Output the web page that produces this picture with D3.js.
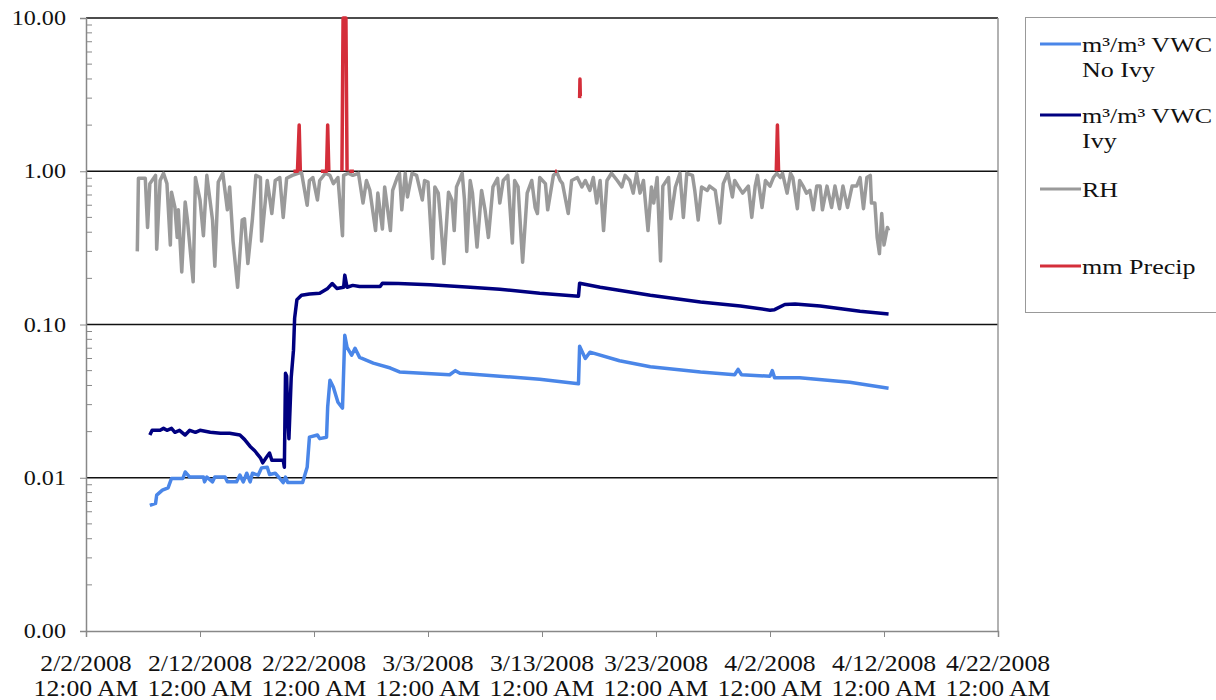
<!DOCTYPE html>
<html>
<head>
<meta charset="utf-8">
<script src="https://cdn.jsdelivr.net/npm/d3@7"></script>
<style>
 body { margin: 0; background: #fff; }
 text { font-family: "Liberation Serif", "DejaVu Serif", serif; }
</style>
</head>
<body>
<div id="chart"></div>
<script>
// values, day = days after 2/2/2008 12:00 AM
var startDate = new Date(2008, 1, 2);
var xTickDays = [0, 10, 20, 30, 40, 50, 60, 70, 80];
var yTickValues = [0.001, 0.01, 0.1, 1, 10];

var rh = [[4.5,0.30],[4.6,0.90],[5.2,0.90],[5.4,0.43],[5.6,0.83],[6.1,0.94],[6.2,0.31],[6.5,0.87],[6.8,0.97],[7.1,0.83],
 [7.4,0.33],[7.5,0.73],[7.8,0.58],[8.0,0.37],[8.1,0.56],[8.4,0.22],[8.7,0.63],[8.9,0.48],[9.4,0.19],[9.6,0.91],
 [10.0,0.65],[10.3,0.38],[10.6,0.94],[11.1,0.48],[11.3,0.24],[11.6,0.85],[12.0,0.97],[12.4,0.56],[12.6,0.79],[12.9,0.35],
 [13.3,0.175],[13.7,0.48],[13.9,0.49],[14.2,0.25],[14.6,0.49],[14.9,0.94],[15.3,0.91],[15.4,0.35],[15.9,0.87],[16.3,0.53],
 [16.6,0.87],[17.0,0.91],[17.3,0.50],[17.6,0.90],[18.1,0.94],[18.6,0.97],[18.9,0.985],[19.4,0.60],[19.6,0.87],[19.9,0.91],
 [20.3,0.65],[20.5,0.87],[21.0,0.97],[21.4,0.94],[21.7,0.83],[22.1,0.91],[22.5,0.38],[22.6,0.94],[23.0,0.97],[23.4,0.94],
 [23.9,0.97],[24.3,0.62],[24.6,0.87],[24.9,0.75],[25.4,0.41],[25.6,0.72],[26.0,0.42],[26.2,0.79],[26.7,0.41],[26.9,0.75],
 [27.3,0.91],[27.5,0.97],[27.7,0.56],[28.0,0.97],[28.2,0.68],[28.6,0.97],[29.0,0.94],[29.5,0.65],[29.7,0.87],[30.0,0.85],
 [30.4,0.27],[30.6,0.79],[30.9,0.72],[31.1,0.48],[31.4,0.25],[31.8,0.73],[32.1,0.65],[32.3,0.41],[32.5,0.79],[33.0,0.97],
 [33.2,0.65],[33.4,0.30],[33.7,0.87],[33.9,0.72],[34.3,0.32],[34.7,0.75],[35.0,0.56],[35.3,0.37],[35.7,0.79],[36.1,0.90],
 [36.3,0.62],[36.6,0.87],[37.0,0.94],[37.4,0.34],[37.6,0.87],[37.9,0.79],[38.3,0.255],[38.7,0.72],[39.1,0.87],[39.4,0.58],
 [39.6,0.53],[39.8,0.91],[40.3,0.83],[40.5,0.56],[41.0,0.94],[41.3,0.985],[41.6,0.87],[41.8,0.83],[42.3,0.53],[42.6,0.87],
 [43.1,0.91],[43.5,0.79],[43.8,0.87],[44.2,0.75],[44.5,0.91],[44.8,0.62],[45.1,0.87],[45.4,0.41],[45.7,0.87],[46.1,0.97],
 [46.6,0.87],[47.0,0.79],[47.3,0.94],[47.7,0.87],[48.0,0.72],[48.3,0.97],[48.6,0.72],[48.9,0.87],[49.3,0.41],[49.6,0.79],
 [49.8,0.62],[50.1,0.91],[50.4,0.26],[50.6,0.80],[51.1,0.91],[51.3,0.49],[51.7,0.79],[52.1,0.97],[52.4,0.50],[52.7,0.97],
 [53.2,0.94],[53.4,0.75],[53.7,0.48],[54.0,0.79],[54.5,0.75],[54.7,0.80],[55.2,0.75],[55.6,0.46],[55.9,0.83],[56.3,0.97],
 [56.7,0.68],[56.9,0.87],[57.2,0.80],[57.6,0.72],[58.1,0.80],[58.4,0.50],[58.7,0.80],[58.9,0.94],[59.3,0.58],[59.6,0.87],
 [60.0,0.80],[60.3,0.91],[60.6,0.97],[60.9,0.91],[61.1,0.97],[61.5,0.72],[61.8,0.97],[62.0,0.91],[62.4,0.57],[62.6,0.87],
 [62.9,0.80],[63.2,0.72],[63.5,0.75],[63.8,0.56],[64.1,0.80],[64.4,0.80],[64.6,0.56],[65.0,0.80],[65.4,0.58],[65.7,0.80],
 [66.1,0.57],[66.4,0.80],[66.8,0.58],[67.2,0.80],[67.6,0.80],[67.9,0.91],[68.2,0.57],[68.5,0.91],[68.8,0.94],[68.9,0.62],
 [69.2,0.62],[69.4,0.37],[69.6,0.29],[69.8,0.53],[70.0,0.33],[70.3,0.43],[70.4,0.41]];

var vwcIvy = [[5.6,0.019],[5.8,0.0204],[6.5,0.0204],[6.8,0.021],[7.1,0.0204],[7.5,0.021],[7.8,0.0198],[8.2,0.0204],[8.7,0.019],
 [9.1,0.0204],[9.6,0.0198],[10.0,0.0204],[10.9,0.0198],[11.8,0.0195],[12.6,0.0195],[13.5,0.019],[13.9,0.0178],[14.4,0.016],
 [14.8,0.015],[15.3,0.0135],[15.5,0.0125],[15.8,0.0135],[16.1,0.0145],[16.3,0.013],[17.3,0.013],[17.4,0.0117],[17.5,0.048],
 [17.6,0.046],[17.7,0.025],[17.8,0.018],[18.0,0.045],[18.2,0.068],[18.3,0.11],[18.5,0.145],[18.9,0.155],[19.6,0.158],
 [20.5,0.16],[21.2,0.172],[21.6,0.185],[22.0,0.172],[22.6,0.175],[22.7,0.21],[22.9,0.175],[23.4,0.18],[24.0,0.177],
 [24.7,0.177],[25.8,0.177],[26.0,0.186],[27.4,0.185],[30.2,0.182],[33.7,0.175],[36.3,0.17],[39.8,0.16],[43.2,0.153],
 [43.3,0.186],[45.1,0.175],[49.5,0.155],[53.9,0.14],[57.4,0.132],[60.0,0.124],[60.4,0.125],[61.3,0.135],[62.2,0.136],
 [64.4,0.132],[67.9,0.122],[70.4,0.117]];

var vwcNoIvy = [[5.6,0.0066],[6.1,0.0068],[6.2,0.0077],[6.7,0.0083],[7.2,0.0086],[7.5,0.0099],[8.5,0.0099],[8.7,0.0109],
 [9.1,0.0101],[10.3,0.0101],[10.4,0.0094],[10.6,0.0101],[11.1,0.0094],[11.3,0.0101],[12.2,0.0101],[12.4,0.0094],[13.2,0.0094],
 [13.5,0.0104],[13.8,0.0094],[14.1,0.0107],[14.4,0.0094],[14.6,0.0107],[15.1,0.0104],[15.4,0.0116],[15.9,0.0117],[16.1,0.0105],
 [16.6,0.0107],[17.0,0.0099],[17.3,0.0093],[17.5,0.0101],[17.7,0.0093],[19.0,0.0093],[19.4,0.0117],[19.6,0.0184],[20.3,0.019],
 [20.5,0.018],[21.1,0.0184],[21.2,0.029],[21.4,0.0433],[21.7,0.039],[22.1,0.0311],[22.5,0.0285],[22.7,0.085],[22.9,0.071],
 [23.3,0.063],[23.6,0.07],[24.0,0.061],[25.2,0.056],[26.7,0.052],[27.5,0.049],[31.9,0.047],[32.4,0.05],[32.8,0.048],
 [36.3,0.046],[39.8,0.044],[43.2,0.041],[43.3,0.072],[43.8,0.06],[44.2,0.066],[46.8,0.058],[49.5,0.053],[53.9,0.049],
 [56.9,0.047],[57.2,0.051],[57.5,0.047],[60.0,0.046],[60.2,0.05],[60.4,0.045],[62.6,0.045],[67.0,0.042],[70.4,0.0384]];

// zero readings are not drawn on the log axis, null breaks the line
var precip = [[18.2,1.0],[18.55,1.0],[18.7,2.0],[18.8,1.0],null,
 [20.6,1.0],[21.1,1.0],[21.2,2.0],[21.3,1.0],null,
 [22.45,1.0],[22.55,10],[22.8,10],[22.9,1.0],null,
 [23.1,1.0],[23.5,1.0],null,
 [41.15,1.0],[41.3,1.0],null,
 [43.3,3.0],[43.33,4.0],[43.36,3.1],null,
 [60.55,1.0],[60.65,2.0],[60.75,1.0]];

var series = [
  {name: ["m\u00b3/m\u00b3 VWC", "No Ivy"], data: vwcNoIvy, color: "#4a86e8", ly: 44},
  {name: ["m\u00b3/m\u00b3 VWC", "Ivy"], data: vwcIvy, color: "#000080", ly: 115},
  {name: ["RH"], data: rh, color: "#9a9a9a", ly: 189},
  {name: ["mm Precip"], data: precip, color: "#d42e3a", ly: 266}
];

var width = 1216, height = 700;
var mLeft = 86, mRight = 998, mTop = 18, mBottom = 631;

function toDate(day){ return new Date(+startDate + day*864e5); }

var svg = d3.select("#chart").append("svg")
  .attr("width", width)
  .attr("height", height);

var x = d3.scaleTime()
  .domain([toDate(0), toDate(80)])
  .range([mLeft, mRight]);

var y = d3.scaleLog()
  .domain([0.001, 10])
  .range([mBottom, mTop]);

// gridlines at decades
svg.selectAll(".grid")
  .data(yTickValues.slice(1))
  .enter().append("line")
  .attr("x1", mLeft).attr("x2", mRight)
  .attr("y1", function(d){ return y(d); })
  .attr("y2", function(d){ return y(d); })
  .attr("stroke", "#111")
  .attr("stroke-width", 1.5);

// right border
svg.append("line")
  .attr("x1", mRight).attr("x2", mRight)
  .attr("y1", mTop).attr("y2", mBottom)
  .attr("stroke", "#999").attr("stroke-width", 1.5);

// minor ticks on the y axis (2..9 in each decade)
var minors = [];
[0.001, 0.01, 0.1, 1].forEach(function(b){
  for (var k = 2; k < 10; k++) minors.push(b*k);
});
svg.selectAll(".minor")
  .data(minors)
  .enter().append("line")
  .attr("x1", mLeft).attr("x2", mLeft + 6)
  .attr("y1", function(d){ return y(d); })
  .attr("y2", function(d){ return y(d); })
  .attr("stroke", "#888");

// y axis
var yAxis = svg.append("g")
  .attr("transform", "translate(" + mLeft + ",0)")
  .call(d3.axisLeft(y).tickValues(yTickValues).tickSize(6).tickPadding(0)
    .tickFormat(function(d){ return d.toFixed(2); }));
yAxis.select(".domain").attr("stroke", "#888").attr("stroke-width", 1.5);
yAxis.selectAll(".tick line").attr("stroke", "#888");
yAxis.selectAll("text")
  .attr("x", 0)
  .attr("font-family", "Liberation Serif")
  .attr("font-size", 21)
  .attr("fill", "#111")
  .attr("transform", "translate(-20,0) scale(1.15,1)");

// x axis
var xAxis = svg.append("g")
  .attr("transform", "translate(0," + mBottom + ")")
  .call(d3.axisBottom(x).tickValues(xTickDays.map(toDate)).tickSize(6).tickFormat(""));
xAxis.select(".domain").attr("stroke", "#888").attr("stroke-width", 1.5);
xAxis.selectAll(".tick line").attr("stroke", "#888");

var fmt = d3.timeFormat("%-m/%-d/%Y");
var xl = svg.selectAll(".xlab")
  .data(xTickDays)
  .enter().append("text")
  .attr("text-anchor", "middle")
  .attr("font-size", 24)
  .attr("fill", "#111")
  .attr("transform", function(d){ return "translate(" + x(toDate(d)) + ",0) scale(1.07,1)"; });
xl.append("tspan").attr("x", 0).attr("y", 671).text(function(d){ return fmt(toDate(d)); });
xl.append("tspan").attr("x", 0).attr("y", 696).text("12:00 AM");

// lines
var line = d3.line()
  .defined(function(d){ return d != null; })
  .x(function(d){ return x(toDate(d[0])); })
  .y(function(d){ return y(d[1]); });

var drawOrder = [2, 0, 1, 3];
drawOrder.forEach(function(i){
  var s = series[i];
  svg.append("path")
    .datum(s.data)
    .attr("fill", "none")
    .attr("stroke", s.color)
    .attr("stroke-width", 3.5)
    .attr("stroke-linejoin", "round")
    .attr("d", line);
});

// legend
var lg = svg.append("g");
lg.append("rect")
  .attr("x", 1025.5).attr("y", 17.5)
  .attr("width", 200).attr("height", 295)
  .attr("fill", "#fff")
  .attr("stroke", "#999");

series.forEach(function(s){
  lg.append("line")
    .attr("x1", 1040).attr("x2", 1081)
    .attr("y1", s.ly).attr("y2", s.ly)
    .attr("stroke", s.color).attr("stroke-width", 3);
  var t = lg.append("text")
    .attr("font-size", 21)
    .attr("fill", "#111")
    .attr("transform", "translate(1082,0) scale(1.24,1)");
  s.name.forEach(function(n, j){
    t.append("tspan").attr("x", 0).attr("y", s.ly + 8 + j*25).text(n);
  });
});
</script>
</body>
</html>
